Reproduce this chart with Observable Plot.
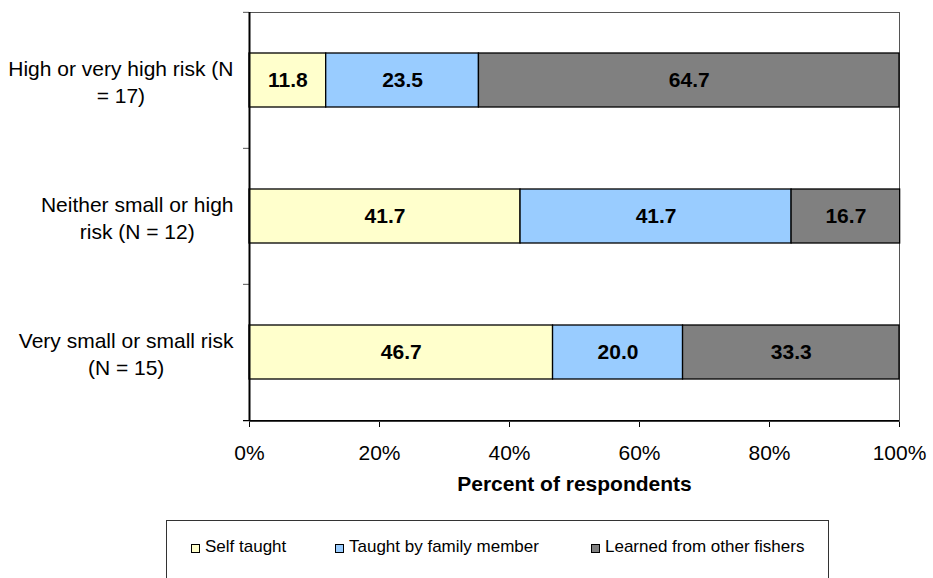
<!DOCTYPE html>
<html><head><meta charset="utf-8">
<script src="https://cdn.jsdelivr.net/npm/d3@7"></script>
<script src="https://cdn.jsdelivr.net/npm/@observablehq/plot@0.6"></script>
<style>
body{margin:0;background:#fff;font-family:"Liberation Sans",Arial,sans-serif;}
#wrap{position:relative;width:933px;height:578px;overflow:hidden;background:#fff}
#wrap svg{display:block}
.legend{position:absolute;left:166px;top:520px;width:663px;height:80px;border:1px solid #333;box-sizing:border-box}
.item{position:absolute;top:16px;height:20px;line-height:20px;font-size:17px;color:#000;white-space:nowrap}
.sw{position:absolute;left:0;top:7px;width:7px;height:7px;border:1px solid #000}
.lab{position:absolute;left:14px;top:0}
</style></head><body><div id="wrap"></div>
<script>
const riskGroups = ["High or very high risk (N = 17)", "Neither small or high risk (N = 12)", "Very small or small risk (N = 15)"];
const groupLabels = ["High or very high risk (N\n= 17)", "Neither small or high\nrisk (N = 12)", "Very small or small risk\n(N = 15)"];
const sources = ["Self taught", "Taught by family member", "Learned from other fishers"];
const selfTaught = [11.8, 41.7, 46.7];
const familyMember = [23.5, 41.7, 20.0];
const otherFishers = [64.7, 16.7, 33.3];
const colors = ["#FFFFCC", "#99CCFF", "#808080"];
const xTicks = [0, 20, 40, 60, 80, 100];
const xTitle = "Percent of respondents";

const series = [selfTaught, familyMember, otherFishers];
const rows = [];
riskGroups.forEach((g, i) => sources.forEach((s, j) => rows.push({group: g, source: s, value: series[j][i]})));

const W = 933, H = 510, mL = 249, mR = 34, mT = 12, mB = 89;
const step = (H - mT - mB) / riskGroups.length;

const chart = Plot.plot({
  width: W, height: H, marginLeft: mL, marginRight: mR, marginTop: mT, marginBottom: mB,
  style: {fontFamily: "'Liberation Sans', Arial, sans-serif", fontSize: "21px", color: "#000", background: "white", overflow: "visible"},
  x: {domain: [0, 100], ticks: xTicks, tickFormat: d => d + "%", tickSize: 6, tickPadding: 18, label: null},
  y: {domain: riskGroups, paddingInner: 0.6, paddingOuter: 0.3, axis: null},
  color: {domain: sources, range: colors},
  marks: [
    Plot.frame({stroke: "#555"}),
    Plot.barX(rows, Plot.stackX({x: "value", y: "group", fill: "source", stroke: "#000", strokeWidth: 1.3, order: null})),
    Plot.text(rows, Plot.stackX({x: "value", y: "group", z: "source", order: null, text: d => d.value.toFixed(1), fontWeight: "bold", fill: "#000"})),
    Plot.ruleY(riskGroups, {y: d => d, dy: -step / 2, x1: 0, x2: 0, insetLeft: -6, stroke: "#555"}),
    Plot.ruleY(riskGroups.slice(-1), {y: d => d, dy: step / 2, x1: 0, x2: 100, insetLeft: -6, stroke: "#000", strokeWidth: 1.3}),
    Plot.ruleX([0], {stroke: "#000", strokeWidth: 2}),
    Plot.text(groupLabels, {y: (d, i) => riskGroups[i], text: d => d, frameAnchor: "left", dx: -16, textAnchor: "end", lineHeight: 1.3, fill: "#000", fontSize: 21}),
    Plot.text([xTitle], {frameAnchor: "bottom", dy: 69, text: d => d, fontWeight: "bold", fill: "#000", fontSize: 21})
  ]
});

const wrap = document.getElementById("wrap");
wrap.appendChild(chart);

// center wrapped lines within each right-aligned label block
chart.querySelectorAll("text").forEach(t => {
  const spans = t.querySelectorAll("tspan");
  if (spans.length < 2) return;
  let w = 0;
  spans.forEach(s => { w = Math.max(w, s.getComputedTextLength()); });
  t.setAttribute("text-anchor", "middle");
  spans.forEach(s => s.setAttribute("x", -w / 2));
});

// legend
const legend = document.createElement("div");
legend.className = "legend";
const itemLeft = [24, 168, 424];
sources.forEach((s, j) => {
  const it = document.createElement("div");
  it.className = "item";
  it.style.left = itemLeft[j] + "px";
  it.innerHTML = `<span class="sw" style="background:${colors[j]}"></span><span class="lab">${s}</span>`;
  legend.appendChild(it);
});
wrap.appendChild(legend);
</script>
</body></html>
